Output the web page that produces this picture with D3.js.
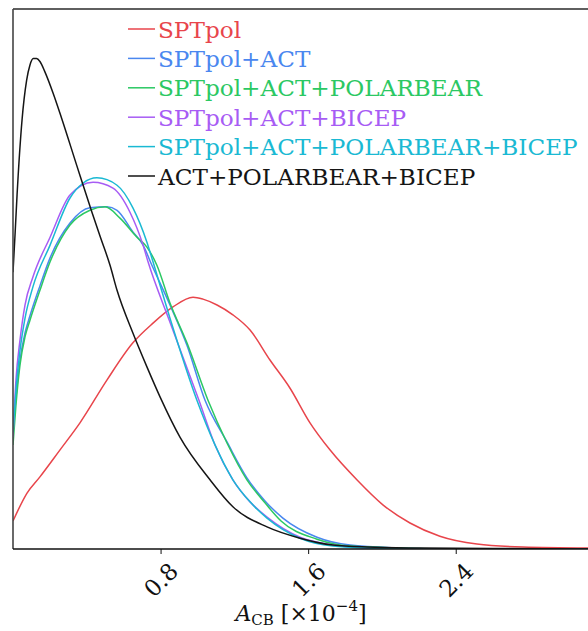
<!DOCTYPE html>
<html>
<head>
<meta charset="utf-8">
<script src="https://cdn.jsdelivr.net/npm/d3@7"></script>
<style>
  body { margin: 0; background: #fff; }
  svg { display: block; }
</style>
</head>
<body>
<svg id="chart" width="588" height="631" font-family="'DejaVu Serif', serif"></svg>
<script>
// x ticks
var xTicks = [0.8, 1.6, 2.4];

// SPTpol
var sptX = [0, 0.076, 0.146, 0.255, 0.363, 0.509, 0.650, 0.759, 0.867, 0.976, 1.030, 1.106, 1.192, 1.285, 1.393, 1.501, 1.610, 1.718, 1.864, 2.005, 2.152, 2.314, 2.515, 2.764, 3.117];
var sptY = [0.057, 0.114, 0.147, 0.202, 0.257, 0.344, 0.420, 0.460, 0.493, 0.513, 0.509, 0.497, 0.477, 0.446, 0.385, 0.328, 0.257, 0.202, 0.141, 0.090, 0.053, 0.026, 0.010, 0.004, 0.002];

// SPTpol+ACT
var actX = [0, 0.016, 0.038, 0.065, 0.092, 0.146, 0.201, 0.309, 0.417, 0.509, 0.564, 0.650, 0.705, 0.753, 0.851, 0.943, 1.041, 1.160, 1.268, 1.366, 1.463, 1.648, 1.827, 2.098, 2.369, 3.117];
var actY = [0.238, 0.308, 0.385, 0.440, 0.475, 0.536, 0.593, 0.664, 0.695, 0.697, 0.690, 0.646, 0.619, 0.578, 0.497, 0.415, 0.303, 0.218, 0.145, 0.098, 0.063, 0.024, 0.008, 0.002, 0, 0];

// SPTpol+ACT+POLARBEAR
var pbX = [0, 0.016, 0.038, 0.065, 0.092, 0.146, 0.201, 0.309, 0.417, 0.499, 0.580, 0.672, 0.726, 0.780, 0.851, 0.943, 1.057, 1.160, 1.268, 1.366, 1.453, 1.648, 1.827, 2.098, 2.369, 3.117];
var pbY = [0.212, 0.293, 0.375, 0.432, 0.466, 0.527, 0.585, 0.660, 0.690, 0.697, 0.674, 0.635, 0.615, 0.578, 0.501, 0.420, 0.303, 0.216, 0.141, 0.094, 0.057, 0.020, 0.006, 0.002, 0, 0];

// SPTpol+ACT+BICEP
var bcX = [0, 0.016, 0.038, 0.065, 0.108, 0.201, 0.309, 0.434, 0.542, 0.634, 0.705, 0.732, 0.851, 1.008, 1.095, 1.192, 1.285, 1.377, 1.556, 1.734, 1.919, 2.206, 3.117];
var bcY = [0.228, 0.344, 0.426, 0.497, 0.554, 0.635, 0.721, 0.747, 0.735, 0.686, 0.619, 0.585, 0.462, 0.303, 0.212, 0.141, 0.096, 0.065, 0.024, 0.008, 0.002, 0, 0];

// SPTpol+ACT+POLARBEAR+BICEP
var allX = [0, 0.016, 0.038, 0.065, 0.108, 0.201, 0.309, 0.379, 0.455, 0.564, 0.650, 0.726, 0.759, 0.851, 0.997, 1.095, 1.192, 1.285, 1.377, 1.556, 1.734, 1.919, 2.206, 3.117];
var allY = [0.238, 0.324, 0.405, 0.470, 0.534, 0.619, 0.715, 0.745, 0.756, 0.741, 0.695, 0.625, 0.585, 0.470, 0.303, 0.212, 0.141, 0.096, 0.063, 0.022, 0.006, 0.002, 0, 0];

// ACT+POLARBEAR+BICEP
var noSptX = [0, 0.011, 0.022, 0.049, 0.074, 0.092, 0.110, 0.128, 0.146, 0.173, 0.218, 0.264, 0.345, 0.427, 0.472, 0.526, 0.564, 0.650, 0.726, 0.797, 0.905, 1.068, 1.192, 1.377, 1.556, 1.734, 1.919, 2.206, 2.600, 3.117];
var noSptY = [0.564, 0.640, 0.721, 0.874, 0.955, 0.986, 0.999, 0.999, 0.993, 0.972, 0.928, 0.877, 0.782, 0.687, 0.637, 0.578, 0.527, 0.440, 0.371, 0.310, 0.228, 0.141, 0.086, 0.045, 0.022, 0.008, 0.004, 0.002, 0.001, 0];

var series = [
	{ name: "SPTpol", xs: sptX, ys: sptY, color: "#e8454b" },
	{ name: "SPTpol+ACT", xs: actX, ys: actY, color: "#4a87ef" },
	{ name: "SPTpol+ACT+POLARBEAR", xs: pbX, ys: pbY, color: "#2bc863" },
	{ name: "SPTpol+ACT+BICEP", xs: bcX, ys: bcY, color: "#a75cf4" },
	{ name: "SPTpol+ACT+POLARBEAR+BICEP", xs: allX, ys: allY, color: "#1ab9d3" },
	{ name: "ACT+POLARBEAR+BICEP", xs: noSptX, ys: noSptY, color: "#151515" }
];

var margin = { left: 13, top: 9, right: 0, bottom: 82 };
var W = 588, H = 631;
var plotBottom = H - margin.bottom;

var x = d3.scaleLinear().domain([0, 3.117]).range([margin.left, 588]);
var y = d3.scaleLinear().domain([0, 1.1]).range([plotBottom, margin.top]);

var svg = d3.select("#chart");

svg.append("defs").append("clipPath").attr("id", "plotclip")
	.append("rect")
	.attr("x", margin.left).attr("y", margin.top)
	.attr("width", W - margin.left).attr("height", plotBottom - margin.top);

var line = d3.line()
	.x(function(d) { return x(d[0]); })
	.y(function(d) { return y(d[1]); })
	.curve(d3.curveMonotoneX);

var curves = svg.append("g").attr("clip-path", "url(#plotclip)");

for (var i = 0; i < series.length; i++)
{
	var s = series[i];
	var pts = s.xs.map(function(v, j) { return [v, s.ys[j]]; });
	curves.append("path")
		.datum(pts)
		.attr("d", line)
		.attr("fill", "none")
		.attr("stroke", s.color)
		.attr("stroke-width", 1.5);
}

// frame (right side falls outside the picture)
svg.append("line")
	.attr("x1", margin.left).attr("x2", W)
	.attr("y1", margin.top).attr("y2", margin.top)
	.attr("stroke", "#2a2a2a").attr("stroke-width", 1.4);
svg.append("line")
	.attr("x1", margin.left).attr("x2", margin.left)
	.attr("y1", margin.top).attr("y2", plotBottom)
	.attr("stroke", "#444").attr("stroke-width", 1.6);

// x axis
var xAxis = d3.axisBottom(x)
	.tickValues(xTicks)
	.tickSize(5)
	.tickFormat(d3.format(".1f"));

var gx = svg.append("g")
	.attr("transform", "translate(0," + plotBottom + ")")
	.call(xAxis);

gx.attr("font-family", null).attr("font-size", null);
gx.select(".domain").attr("stroke", "#111").attr("stroke-width", 1.4)
	.attr("d", "M" + margin.left + ",0H" + W);
gx.selectAll(".tick line").attr("stroke", "#111").attr("stroke-width", 1);
gx.selectAll(".tick text")
	.attr("y", 0).attr("dy", null)
	.attr("transform", "translate(0,31) rotate(-45)")
	.attr("text-anchor", "middle")
	.attr("dominant-baseline", "central")
	.attr("fill", "#111")
	.attr("font-size", "23px");

// x label
var xl = svg.append("text")
	.attr("x", 301).attr("y", 621)
	.attr("text-anchor", "middle")
	.attr("fill", "#111")
	.attr("font-size", "22px");
xl.append("tspan").attr("font-style", "italic").text("A");
xl.append("tspan").attr("font-size", "15px").attr("dy", 4).text("CB");
xl.append("tspan").attr("dy", -4).text(" [×10");
xl.append("tspan").attr("font-size", "15px").attr("dy", -10).text("−4");
xl.append("tspan").attr("dy", 10).text("]");

// legend, sized so the longest label spans like the original
var legend = svg.append("g");
var rowH = 29.4;
var labels = [];
for (var k = 0; k < series.length; k++)
{
	var ly = 29 + k * rowH;
	legend.append("line")
		.attr("x1", 128).attr("x2", 155)
		.attr("y1", ly).attr("y2", ly)
		.attr("stroke", series[k].color).attr("stroke-width", 1.5);
	var t = legend.append("text")
		.attr("x", 158).attr("y", ly)
		.attr("dominant-baseline", "central")
		.attr("fill", series[k].color)
		.attr("font-size", "22px")
		.text(series[k].name);
	labels.push(t);
}
var longest = labels[4].node().getComputedTextLength();
var fs = 22 * 420 / longest;
labels.forEach(function(t) { t.attr("font-size", fs.toFixed(2) + "px"); });
</script>
</body>
</html>
